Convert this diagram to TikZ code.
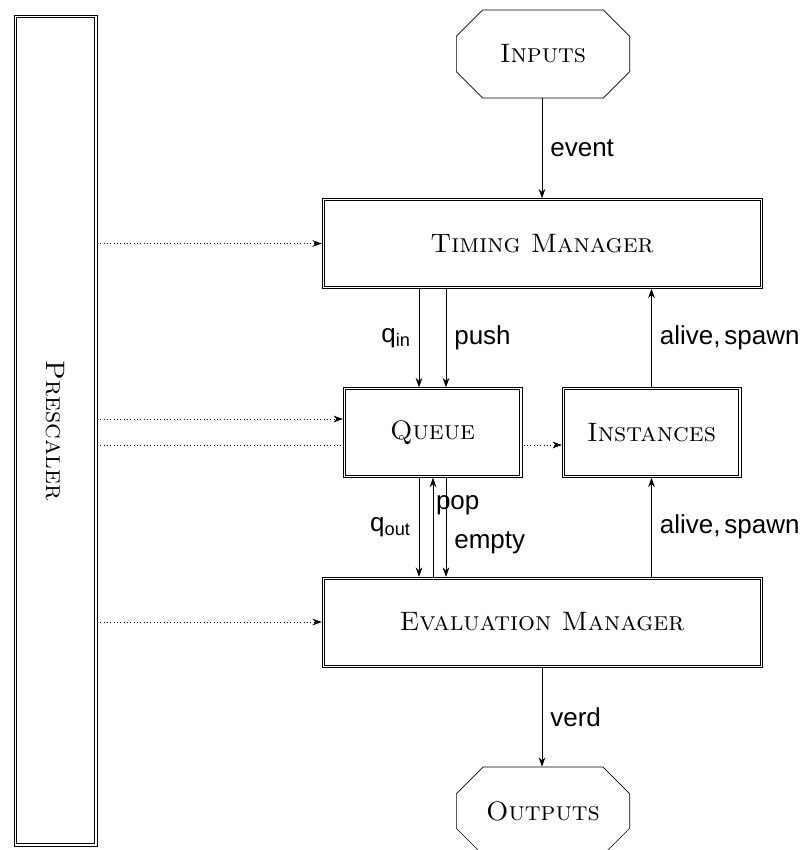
\documentclass[tikz,border=0pt]{standalone}
\usepackage{fontspec}
\setsansfont{Liberation Sans}
\usetikzlibrary{arrows.meta,shapes.misc,calc}

\tikzset{
  box/.style={draw, line width=0.4pt, fill=white,
    font=\fontsize{20}{24}\selectfont\scshape,
    minimum width=#1, minimum height=67.5pt, inner sep=0pt},
  innerline/.style={line width=0.75pt},
  io/.style={draw, line width=0.5pt, chamfered rectangle,
    chamfered rectangle xsep=12.75pt, chamfered rectangle ysep=12.75pt,
    minimum width=130pt, minimum height=66pt, inner sep=0pt,
    font=\fontsize{20}{24}\selectfont\scshape},
  arr/.style={-{Stealth[length=7pt,width=5pt]}, line width=0.5pt},
  dots/.style={arr, dotted},
  lbl/.style={font=\fontsize{19.5}{23}\selectfont\sffamily, inner sep=0pt},
}

% second, inner frame of a double-framed block
\newcommand\innerframe[1]{%
  \draw[innerline] ($(#1.south west)+(1.7pt,1.7pt)$) rectangle
    ($(#1.north east)-(1.7pt,1.7pt)$);}

\begin{document}
\begin{tikzpicture}[x=0.75pt, y=-0.75pt]
\useasboundingbox (0,0) rectangle (806,850);

% side block
\node[box=62pt, minimum height=623pt] (pre) at (55.5,430.5)
  {\rotatebox{-90}{Prescaler}};
\innerframe{pre}

% main blocks
\node[io] (in) at (543,54) {Inputs};
\node[box=330pt] (tm) at (542,243.5) {Timing Manager};
\innerframe{tm}
\node[box=134pt] (inst) at (651.5,432.5) {Instances};
\innerframe{inst}

% prescaler line that passes under the queue into the instances
\draw[dots] (pre.east |- 0,445) -- (inst.west |- 0,445);

\node[box=134pt] (q) at (432.5,432.5) {Queue};
\innerframe{q}
\node[box=330pt] (ev) at (542,622) {Evaluation Manager};
\innerframe{ev}
\node[io] (out) at (543,811) {Outputs};

% prescaler clock lines
\draw[dots] (pre.east |- tm.west) -- (tm.west);
\draw[dots] (pre.east |- 0,419) -- (q.west |- 0,419);
\draw[dots] (pre.east |- ev.west) -- (ev.west);

% data flow
\draw[arr] (in.south -| 542,0) -- (tm.north -| 542,0)
  node[lbl, midway, right=6pt] {event};

\coordinate (xa) at (419,0);
\coordinate (xb) at (433,0);
\coordinate (xc) at (446,0);

\draw[arr] (tm.south -| xa) -- (q.north -| xa)
  node[lbl, midway, left=6pt] {q\textsubscript{in}};
\draw[arr] (tm.south -| xc) -- (q.north -| xc)
  node[lbl, midway, right=6pt] {push};

\draw[arr] (inst.north) -- (inst.north |- tm.south)
  node[lbl, midway, right=6pt] {alive,\kern0.15em spawn};
\draw[arr] (inst.south |- ev.north) -- (inst.south)
  node[lbl, midway, right=6pt] {alive,\kern0.15em spawn};

\draw[arr] (q.south -| xa) -- (ev.north -| xa)
  node[lbl, midway, left=6pt] {q\textsubscript{out}};
\draw[arr] (ev.north -| xb) -- (q.south -| xb)
  node[lbl, pos=0.72, right=2pt] {pop};
\draw[arr] (q.south -| xc) -- (ev.north -| xc)
  node[lbl, pos=0.66, right=6pt] {empty};

\draw[arr] (ev.south -| 542,0) -- (out.north -| 542,0)
  node[lbl, midway, right=6pt] {verd};
\end{tikzpicture}
\end{document}
